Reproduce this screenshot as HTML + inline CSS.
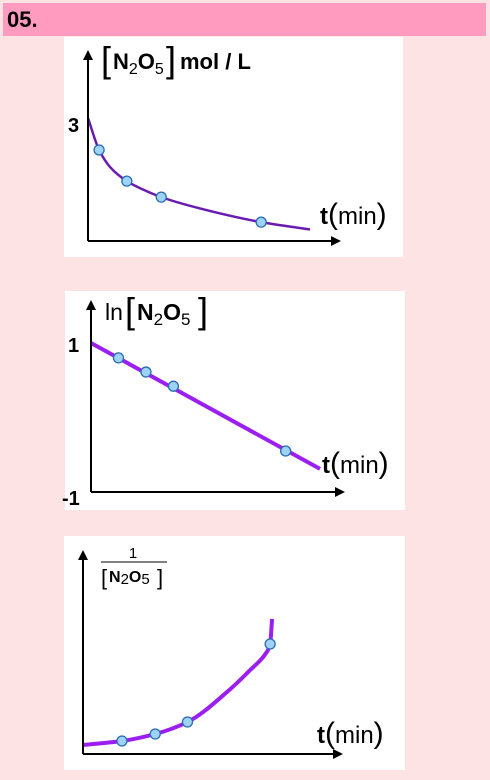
<!DOCTYPE html>
<html><head><meta charset="utf-8"><style>
body{margin:0;background:#fde3e4;width:490px;height:780px;overflow:hidden;font-family:"Liberation Sans",sans-serif;}
#hdr{position:absolute;left:3px;top:3px;width:483px;height:33px;background:#ff9bbf;}
#hdr span{position:absolute;left:4px;top:4px;font-weight:bold;font-size:22px;color:#000;}
svg{position:absolute;left:0;top:0;}
</style></head><body>
<div id="hdr"><span>05.</span></div>
<svg id="c" width="490" height="780">
<defs><marker id="ah" markerWidth="10" markerHeight="10" refX="8" refY="5" orient="auto" markerUnits="userSpaceOnUse"><path d="M0,0L10,5L0,10z" fill="#000"/></marker></defs>
<rect x="64" y="37" width="339" height="220" fill="#fff"/>
<rect x="65" y="291" width="340" height="219" fill="#fff"/>
<rect x="64" y="536" width="341" height="234" fill="#fff"/>
<g font-family="Liberation Sans,sans-serif" fill="#000">
<g>
<text x="101" y="72" font-size="36" font-weight="200">[</text>
<text x="113" y="69" font-size="22" font-weight="bold">N<tspan font-size="16" font-weight="normal" dy="5">2</tspan><tspan dy="-5">O</tspan><tspan font-size="16" font-weight="normal" dy="5">5</tspan></text>
<text x="166" y="72" font-size="36" font-weight="200">]</text>
<text x="180" y="69" font-size="22" font-weight="bold">mol / L</text>
</g>
<text x="68" y="132" font-size="20" font-weight="bold">3</text>
<text x="320" y="224" font-size="24"><tspan font-weight="bold">t</tspan><tspan font-size="30" font-weight="200">(</tspan>min<tspan font-size="30" font-weight="200">)</tspan></text>
<g>
<text x="105" y="320" font-size="23">ln</text>
<text x="125" y="323" font-size="36" font-weight="200">[</text>
<text x="137" y="320" font-size="23" font-weight="bold">N<tspan font-size="17" font-weight="normal" dy="5">2</tspan><tspan dy="-5">O</tspan><tspan font-size="17" font-weight="normal" dy="5">5</tspan></text>
<text x="198" y="323" font-size="36" font-weight="200">]</text>
</g>
<text x="68" y="352" font-size="20" font-weight="bold">1</text>
<text x="62" y="505" font-size="20" font-weight="bold">-1</text>
<text x="322" y="473" font-size="24"><tspan font-weight="bold">t</tspan><tspan font-size="30" font-weight="200">(</tspan>min<tspan font-size="30" font-weight="200">)</tspan></text>
<g>
<text x="133" y="558" font-size="15" text-anchor="middle">1</text>
<line x1="101" y1="562" x2="167" y2="562" stroke="#000" stroke-width="1"/>
<text x="101" y="585" font-size="22" font-weight="200">[</text>
<text x="109" y="582" font-size="16" font-weight="bold">N<tspan font-weight="normal" font-size="15" dy="2">2</tspan><tspan dy="-2">O</tspan><tspan font-weight="normal" font-size="15" dy="2">5</tspan></text>
<text x="157" y="585" font-size="22" font-weight="200">]</text>
</g>
<text x="317" y="743" font-size="24"><tspan font-weight="bold">t</tspan><tspan font-size="30" font-weight="200">(</tspan>min<tspan font-size="30" font-weight="200">)</tspan></text>
</g>
</svg>
<script>
// Chart 1: [N2O5] vs t
const c1CurveT=[0,0.5,1,1.75,2.5,3.3,5,7.8,10];
const c1CurveV=[3,2.22,1.8,1.46,1.25,1.07,0.8,0.46,0.28];
const c1PointT=[0.5,1.75,3.3,7.8];
const c1PointV=[2.22,1.46,1.07,0.46];
// Chart 2: ln[N2O5] vs t
const c2LineT=[0,10];
const c2LineV=[1,-0.69];
const c2PointT=[1.2,2.4,3.6,8.5];
const c2PointV=[0.8,0.61,0.42,-0.45];
// Chart 3: 1/[N2O5] vs t
const c3CurveT=[0,2.05,3.8,5.5,7.7,8.8,9.6,9.85,9.95];
const c3CurveV=[0.45,0.65,1.0,1.6,3.2,4.2,5.0,5.5,6.75];
const c3PointT=[2.05,3.8,5.5,9.85];
const c3PointV=[0.65,1.0,1.6,5.5];

const NS='http://www.w3.org/2000/svg';
const svg=document.getElementById('c');
function mk(tag,attrs){const e=document.createElementNS(NS,tag);for(const k in attrs)e.setAttribute(k,attrs[k]);svg.appendChild(e);return e;}
function axes(ox,oy,top,right,n){
  const ya=mk('line',{x1:ox,y1:oy,x2:ox,y2:top,stroke:'#000','stroke-width':2,'marker-end':'url(#ah)'});
  
  
  const xa=mk('line',{x1:ox,y1:oy,x2:right,y2:oy,stroke:'#000','stroke-width':2,'marker-end':'url(#ah)'});
  
  
}
// monotone cubic (Fritsch–Carlson) path in pixel space
function smooth(pts){
  const n=pts.length;
  if(n<3){return 'M'+pts.map(p=>p[0]+','+p[1]).join(' L');}
  const dx=[],sl=[];
  for(let i=0;i<n-1;i++){dx.push(pts[i+1][0]-pts[i][0]);sl.push((pts[i+1][1]-pts[i][1])/dx[i]);}
  const m=[sl[0]];
  for(let i=1;i<n-1;i++){
    if(sl[i-1]*sl[i]<=0)m.push(0);
    else{const w1=2*dx[i]+dx[i-1],w2=dx[i]+2*dx[i-1];m.push((w1+w2)/(w1/sl[i-1]+w2/sl[i]));}
  }
  m.push(sl[n-2]);
  let d='M'+pts[0][0]+','+pts[0][1];
  for(let i=0;i<n-1;i++){
    const h=dx[i]/3;
    d+=' C'+(pts[i][0]+h)+','+(pts[i][1]+m[i]*h)+' '+(pts[i+1][0]-h)+','+(pts[i+1][1]-m[i+1]*h)+' '+pts[i+1][0]+','+pts[i+1][1];
  }
  return d;
}
function series(T,V,sx,sy,color,w,n){
  const pts=T.map((t,i)=>[sx(t),sy(V[i])]);
  const p=mk('path',{d:smooth(pts),fill:'none',stroke:color,'stroke-width':w,'stroke-linecap':'butt','stroke-linejoin':'round'});
  
  
}
function points(T,V,sx,sy,n){
  T.forEach((t,i)=>{
    const c=mk('circle',{cx:sx(t),cy:sy(V[i]),r:5,fill:'#9fd2f7',stroke:'#2a6cb0','stroke-width':1.3});
    
    
  });
}
// chart 1
const x1=t=>88+t*22.2, y1=v=>241-v*41;
series(c1CurveT,c1CurveV,x1,y1,'#6a1bb0',2.5,1);
axes(88,241,52,339,1);
points(c1PointT,c1PointV,x1,y1,1);
// chart 2
const x2=t=>91+t*22.9, y2=v=>417.5-v*74.5;
series(c2LineT,c2LineV,x2,y2,'#9b1ff0',4,2);
axes(91,492,302,343,2);
points(c2PointT,c2PointV,x2,y2,2);
// chart 3
const x3=t=>83+t*19, y3=v=>754-v*20;
series(c3CurveT,c3CurveV,x3,y3,'#9b1ff0',4,3);
axes(83,754,552,341,3);
points(c3PointT,c3PointV,x3,y3,3);
</script>
</body></html>
